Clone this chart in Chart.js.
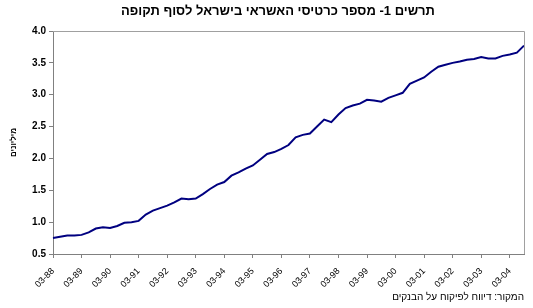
<!DOCTYPE html>
<html lang="he">
<head>
<meta charset="utf-8">
<style>
  html, body { margin: 0; padding: 0; background: #fff; }
  #wrap { position: relative; width: 533px; height: 308px; }
  #chartTitle {
    position: absolute; left: 0; top: 3px; width: 556px;
    text-align: center; direction: rtl;
    font: bold 13px Arial, "Liberation Sans", sans-serif; color: #000;
  }
</style>
<script src="https://cdn.jsdelivr.net/npm/chart.js@4/dist/chart.umd.min.js"></script>
</head>
<body>
<div id="wrap">
  <canvas id="cardsChart" width="533" height="308"></canvas>
  <div id="chartTitle"></div>
</div>
<script>
// --- Data ---
const quarters = [
  '03-88','06-88','09-88','12-88','03-89','06-89','09-89','12-89',
  '03-90','06-90','09-90','12-90','03-91','06-91','09-91','12-91',
  '03-92','06-92','09-92','12-92','03-93','06-93','09-93','12-93',
  '03-94','06-94','09-94','12-94','03-95','06-95','09-95','12-95',
  '03-96','06-96','09-96','12-96','03-97','06-97','09-97','12-97',
  '03-98','06-98','09-98','12-98','03-99','06-99','09-99','12-99',
  '03-00','06-00','09-00','12-00','03-01','06-01','09-01','12-01',
  '03-02','06-02','09-02','12-02','03-03','06-03','09-03','12-03',
  '03-04','06-04','09-04'
];
// credit cards, millions
const cards = [
  0.75, 0.77, 0.79, 0.79, 0.80, 0.84, 0.90, 0.92,
  0.91, 0.94, 0.99, 1.00, 1.02, 1.12, 1.18, 1.22,
  1.26, 1.31, 1.37, 1.36, 1.37, 1.44, 1.52, 1.59,
  1.63, 1.73, 1.78, 1.84, 1.89, 1.98, 2.07, 2.10,
  2.15, 2.21, 2.33, 2.37, 2.39, 2.50, 2.61, 2.57,
  2.69, 2.79, 2.83, 2.86, 2.92, 2.91, 2.89, 2.95,
  2.99, 3.03, 3.17, 3.22, 3.27, 3.36, 3.44, 3.47,
  3.50, 3.52, 3.55, 3.56, 3.59, 3.57, 3.57, 3.61,
  3.63, 3.66, 3.77
];
const titleText = 'תרשים 1- מספר כרטיסי האשראי בישראל לסוף תקופה';
const yTitle = 'מיליונים';
const sourceText = 'המקור: דיווח לפיקוח על הבנקים';

document.getElementById('chartTitle').textContent = titleText;

// --- plot area frame (top + right edges like the original) ---
const plotBorder = {
  id: 'plotBorder',
  afterDatasetsDraw(chart) {
    const { ctx, chartArea: a } = chart;
    ctx.save();
    ctx.strokeStyle = '#a0a0a0';
    ctx.lineWidth = 1;
    ctx.beginPath();
    ctx.moveTo(a.left, a.top + 0.5);
    ctx.lineTo(a.right + 0.5, a.top + 0.5);
    ctx.lineTo(a.right + 0.5, a.bottom);
    ctx.stroke();
    ctx.restore();
  }
};

const ctx = document.getElementById('cardsChart').getContext('2d');
new Chart(ctx, {
  type: 'line',
  data: {
    labels: quarters,
    datasets: [{
      data: cards,
      borderColor: '#000080',
      borderWidth: 2,
      pointRadius: 0,
      tension: 0,
      fill: false
    }]
  },
  options: {
    responsive: false,
    animation: false,
    layout: { padding: { top: 31, right: 9, bottom: 0, left: 0 } },
    plugins: {
      legend: { display: false },
      tooltip: { enabled: false },
      subtitle: {
        display: true,
        position: 'bottom',
        align: 'end',
        text: sourceText,
        color: '#000',
        font: { family: 'Arial, "Liberation Sans"', size: 10 },
        padding: { top: 0, bottom: 5 }
      }
    },
    scales: {
      x: {
        offset: false,
        afterFit: (s) => { s.height = 37; },
        border: { color: '#808080' },
        grid: { drawOnChartArea: false, drawTicks: true, tickLength: 4, color: '#808080' },
        ticks: {
          autoSkip: false,
          maxRotation: 45,
          minRotation: 45,
          padding: 8,
          color: '#000',
          font: { family: 'Arial, "Liberation Sans"', size: 9 },
          callback: function (val, i) { return i % 4 === 0 ? quarters[i] : null; }
        }
      },
      y: {
        min: 0.5,
        max: 4.0,
        afterFit: (s) => { s.width = 53; },
        border: { color: '#808080' },
        grid: { drawOnChartArea: false, drawTicks: true, tickLength: 4, color: '#808080' },
        title: {
          display: true,
          text: yTitle,
          color: '#000',
          font: { family: 'Arial, "Liberation Sans"', size: 8, weight: 'bold' },
          padding: { top: 9, bottom: 0 }
        },
        ticks: {
          stepSize: 0.5,
          padding: 3,
          color: '#000',
          font: { family: 'Arial, "Liberation Sans"', size: 10, weight: 'bold' },
          callback: (v) => v.toFixed(1)
        }
      }
    }
  },
  plugins: [plotBorder]
});
</script>
</body>
</html>
